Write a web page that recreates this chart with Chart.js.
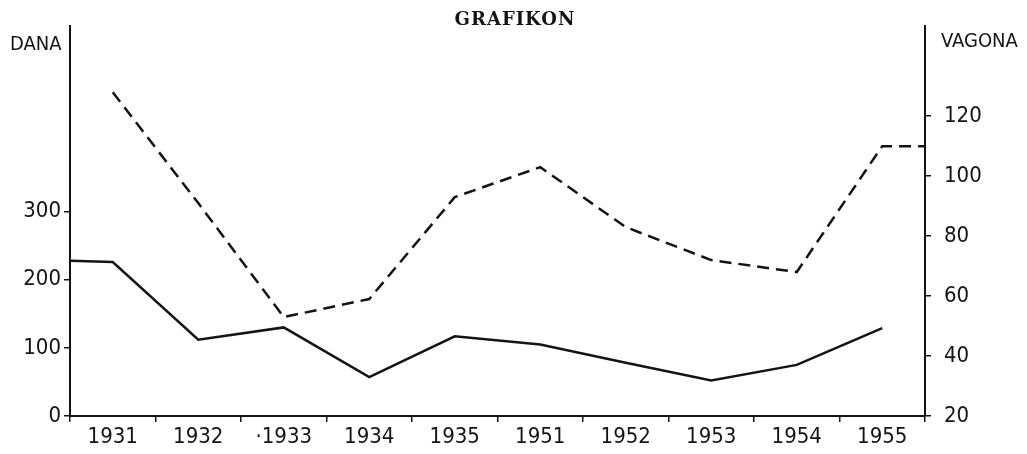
<!DOCTYPE html>
<html>
<head>
<meta charset="utf-8">
<title>Grafikon</title>
<script src="https://cdn.jsdelivr.net/npm/chart.js@4.4.1/dist/chart.umd.min.js"></script>
<style>
  html, body { margin: 0; padding: 0; background: #fff; }
  canvas { display: block; }
</style>
</head>
<body>
<canvas id="grafikon" width="1027" height="454"></canvas>
<script>
// x categories (years)
const years = ['1931', '1932', '·1933', '1934', '1935', '1951', '1952', '1953', '1954', '1955'];
// solid line, read against the left axis (DANA)
const danaValues = [226, 112, 130, 57, 117, 105, 78, 52, 75, 129];
const danaStart = 228;   // where the solid line leaves the left axis
// dashed line, read against the right axis (VAGONA)
const vagonaValues = [128, 91, 53, 59, 93, 103, 83, 72, 68, 110];
const vagonaEnd = 110;   // flat run into the right axis
// tick labels
const danaTicks = [0, 100, 200, 300];
const vagonaTicks = [20, 40, 60, 80, 100, 120];

const ink = '#141414';
const tickFont = { family: "'DejaVu Sans Condensed', 'DejaVu Sans', sans-serif", size: 22 };

// points sit on a hidden linear axis (-0.5 .. 9.5) so the lines can reach the frame
const solidPoints = [{ x: -0.5, y: danaStart }].concat(danaValues.map((v, i) => ({ x: i, y: v })));
const dashedPoints = vagonaValues.map((v, i) => ({ x: i, y: v })).concat([{ x: years.length - 0.5, y: vagonaEnd }]);

// title and axis names are drawn as text on top of the chart
const captions = {
  id: 'captions',
  afterDraw(chart) {
    const c = chart.ctx;
    c.save();
    c.fillStyle = ink;
    c.textBaseline = 'alphabetic';
    c.font = "bold 18px 'DejaVu Serif', serif";
    c.letterSpacing = '1px';
    c.textAlign = 'center';
    c.fillText('GRAFIKON', 515, 25);
    c.letterSpacing = '0px';
    c.font = "20px 'DejaVu Sans Condensed', 'DejaVu Sans', sans-serif";
    c.textAlign = 'left';
    c.fillText('DANA', 10, 50);
    c.fillText('VAGONA', 941, 47);
    c.restore();
  }
};

const axisGrid = { drawOnChartArea: false, drawTicks: true, tickLength: 6, color: ink, lineWidth: 1.5 };
const axisBorder = { display: true, color: ink, width: 2 };

new Chart(document.getElementById('grafikon').getContext('2d'), {
  type: 'line',
  data: {
    labels: years,
    datasets: [
      {
        label: 'DANA',
        data: solidPoints,
        xAxisID: 'xl',
        yAxisID: 'y',
        borderColor: ink,
        borderWidth: 2.5,
        pointRadius: 0,
        tension: 0,
        fill: false
      },
      {
        label: 'VAGONA',
        data: dashedPoints,
        xAxisID: 'xl',
        yAxisID: 'y2',
        borderColor: ink,
        borderWidth: 2.5,
        borderDash: [12, 7],
        pointRadius: 0,
        tension: 0,
        fill: false
      }
    ]
  },
  options: {
    responsive: false,
    animation: false,
    layout: { padding: { top: 20, left: 0, right: 0, bottom: 0 } },
    plugins: {
      legend: { display: false },
      tooltip: { enabled: false },
      title: { display: false }
    },
    scales: {
      x: {
        type: 'category',
        position: 'bottom',
        offset: true,
        grid: Object.assign({ offset: true }, axisGrid),
        border: axisBorder,
        ticks: { color: ink, font: tickFont, padding: 2, maxRotation: 0, autoSkip: false },
        afterFit: s => { s.height = 38; }
      },
      xl: {
        type: 'linear',
        display: false,
        min: -0.5,
        max: years.length - 0.5
      },
      y: {
        position: 'left',
        min: 0,
        max: 572,
        grid: axisGrid,
        border: axisBorder,
        ticks: { color: ink, font: tickFont, padding: 3 },
        afterBuildTicks: s => { s.ticks = danaTicks.map(v => ({ value: v })); },
        afterFit: s => { s.width = 70; }
      },
      y2: {
        position: 'right',
        min: 20,
        max: 150,
        grid: axisGrid,
        border: axisBorder,
        ticks: { color: ink, font: tickFont, padding: 13 },
        afterBuildTicks: s => { s.ticks = vagonaTicks.map(v => ({ value: v })); },
        afterFit: s => { s.width = 102; }
      }
    }
  },
  plugins: [captions]
});
</script>
</body>
</html>
